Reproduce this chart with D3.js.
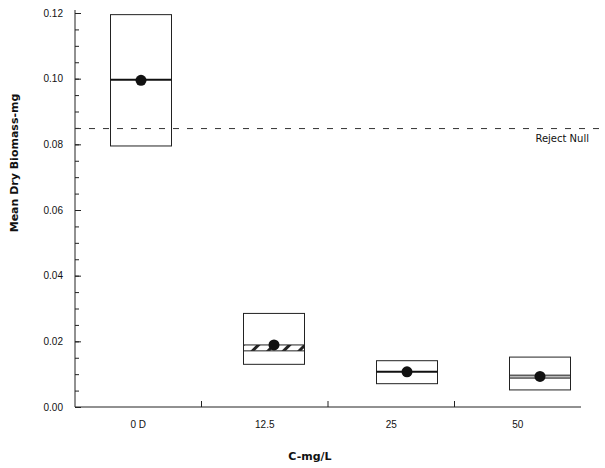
<!DOCTYPE html>
<html>
<head>
<meta charset="utf-8">
<script src="https://cdn.jsdelivr.net/npm/d3@7"></script>
<style>
  body { margin: 0; background: #fff; }
  svg { display: block; font-family: "DejaVu Sans", Verdana, sans-serif; }
  .axis path, .axis line { stroke: #222; }
  .axis text { font-size: 10px; fill: #111; }
  .title { font-size: 11px; font-weight: bold; fill: #111; }
</style>
</head>
<body>
<div id="chart"></div>
<script>
// concentration groups
const categories = ['0 D', '12.5', '25', '50'];
// box extents (upper / lower)
const boxHigh = [0.1195, 0.0285, 0.0141, 0.0152];
const boxLow = [0.0795, 0.0130, 0.0071, 0.0052];
// median band (equal when it is a single line)
const medLow = [0.0997, 0.0171, 0.0107, 0.0088];
const medHigh = [0.0997, 0.0189, 0.0107, 0.0097];
// group means (dots)
const means = [0.0995, 0.0189, 0.0107, 0.0093];
const rejectNull = 0.0848;
const yTicks = [0, 0.02, 0.04, 0.06, 0.08, 0.10, 0.12];

const width = 605, height = 468;
const plotLeft = 75, plotRight = 581, plotTop = 13, plotBottom = 407;

const svg = d3.select('#chart').append('svg')
  .attr('width', width).attr('height', height);

const defs = svg.append('defs');
defs.append('pattern')
  .attr('id', 'hatch')
  .attr('patternUnits', 'userSpaceOnUse')
  .attr('width', 11).attr('height', 11)
  .attr('patternTransform', 'rotate(45)')
  .append('rect')
  .attr('width', 3).attr('height', 11)
  .attr('fill', '#222');

const y = d3.scaleLinear().domain([0, 0.12]).range([plotBottom, plotTop]);
const xBand = d3.scaleBand().domain(categories).range([plotLeft, plotRight]);
// box centres sit on their own spacing
const xBox = d3.scalePoint().domain(categories).range([141, 540]);
const boxW = 61;

// y axis: major + minor ticks pointing inward
svg.append('g').attr('class', 'axis')
  .attr('transform', `translate(${plotLeft},0)`)
  .call(d3.axisLeft(y).tickValues(d3.range(0, 0.1201, 0.005)).tickSize(-4).tickFormat(''))
  .call(g => g.select('.domain').attr('d', `M0,10V${plotBottom}`));

svg.append('g').attr('class', 'axis')
  .attr('transform', `translate(${plotLeft},0)`)
  .call(d3.axisLeft(y).tickValues(yTicks).tickSize(-6).tickPadding(12).tickFormat(d3.format('.2f')))
  .call(g => g.select('.domain').remove());

// x axis
svg.append('g').attr('class', 'axis')
  .attr('transform', `translate(0,${plotBottom})`)
  .call(d3.axisBottom(xBand).tickSize(0).tickPadding(14))
  .call(g => g.select('.domain').attr('d', `M${plotLeft},0H${plotRight}`));

svg.append('g').selectAll('line')
  .data(categories.slice(1))
  .join('line')
  .attr('x1', d => xBand(d)).attr('x2', d => xBand(d))
  .attr('y1', plotBottom).attr('y2', plotBottom - 6)
  .attr('stroke', '#222');

// reject null line
svg.append('line')
  .attr('x1', plotLeft).attr('x2', width)
  .attr('y1', y(rejectNull)).attr('y2', y(rejectNull))
  .attr('stroke', '#333').attr('stroke-dasharray', '6,8');

svg.append('text')
  .attr('x', 589).attr('y', y(rejectNull) + 13)
  .attr('text-anchor', 'end')
  .style('font-size', '10px').attr('fill', '#111')
  .text('Reject Null');

// boxes
const data = categories.map((c, i) => ({
  c, hi: boxHigh[i], lo: boxLow[i], mLo: medLow[i], mHi: medHigh[i], mean: means[i]
}));

const boxes = svg.append('g').selectAll('g')
  .data(data)
  .join('g')
  .attr('transform', d => `translate(${xBox(d.c) - boxW / 2},0)`);

boxes.append('rect')
  .attr('y', d => y(d.hi))
  .attr('width', boxW)
  .attr('height', d => y(d.lo) - y(d.hi))
  .attr('fill', 'none').attr('stroke', '#222').attr('stroke-width', 1);

boxes.filter(d => y(d.mLo) - y(d.mHi) >= 4)
  .append('rect')
  .attr('y', d => y(d.mHi))
  .attr('width', boxW)
  .attr('height', d => y(d.mLo) - y(d.mHi))
  .attr('fill', 'url(#hatch)').attr('stroke', '#222');

boxes.filter(d => y(d.mLo) - y(d.mHi) < 4 && d.mLo !== d.mHi)
  .append('rect')
  .attr('y', d => y(d.mHi))
  .attr('width', boxW)
  .attr('height', d => y(d.mLo) - y(d.mHi))
  .attr('fill', '#bbb').attr('stroke', '#222');

boxes.filter(d => d.mLo === d.mHi)
  .append('line')
  .attr('x1', 0).attr('x2', boxW)
  .attr('y1', d => y(d.mLo)).attr('y2', d => y(d.mLo))
  .attr('stroke', '#111').attr('stroke-width', 2);

boxes.append('circle')
  .attr('cx', boxW / 2)
  .attr('cy', d => y(d.mean))
  .attr('r', 5.5)
  .attr('fill', '#111');

// axis titles
svg.append('text').attr('class', 'title')
  .attr('x', 310).attr('y', 460)
  .attr('text-anchor', 'middle')
  .text('C-mg/L');

svg.append('text').attr('class', 'title')
  .attr('transform', 'translate(18,163)rotate(-90)')
  .attr('text-anchor', 'middle')
  .text('Mean Dry Biomass-mg');
</script>
</body>
</html>
